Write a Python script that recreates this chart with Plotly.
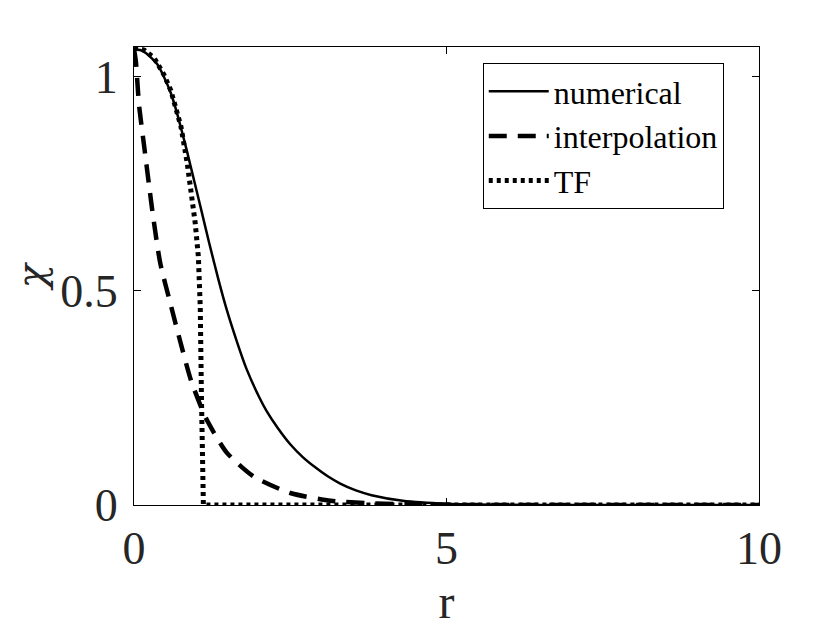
import plotly.graph_objects as go

# numerical solution
r_num = [0, 0.1, 0.2, 0.37, 0.48, 0.59, 0.67, 0.75, 0.85, 0.95, 1.06, 1.2, 1.35, 1.48,
         1.65, 1.8, 2.0, 2.12, 2.3, 2.5, 2.7, 2.9, 3.1, 3.3, 3.55, 3.8, 4.3, 5.0, 6.0,
         7.0, 8.0, 9.0, 10.0]
chi_num = [1.065, 1.063, 1.055, 1.03, 1.0, 0.962, 0.925, 0.882, 0.825, 0.765, 0.699, 0.614,
           0.527, 0.458, 0.38, 0.318, 0.253, 0.22, 0.18, 0.142, 0.112, 0.088, 0.067, 0.05,
           0.034, 0.023, 0.010, 0.003, 0.0005, 0.0, 0.0, 0.0, 0.0]

# interpolation
r_int = [0, 0.03, 0.08, 0.16, 0.24, 0.30, 0.42, 0.58, 0.74, 0.91, 1.15, 1.48, 1.92,
         2.5, 3.15, 3.8, 4.5, 5.5, 10.0]
chi_int = [1.065, 1.036, 0.935, 0.841, 0.748, 0.68, 0.565, 0.472, 0.382, 0.292, 0.203,
           0.123, 0.066, 0.028, 0.010, 0.004, 0.001, 0.0, 0.0]

# Thomas-Fermi
r_tf = [0, 0.16, 0.32, 0.48, 0.59, 0.67, 0.75, 0.85, 0.93, 0.98, 1.03, 1.06, 1.08,
        1.10, 1.11, 10.0]
chi_tf = [1.068, 1.063, 1.045, 1.005, 0.968, 0.930, 0.885, 0.800, 0.717, 0.658, 0.58,
          0.463, 0.245, 0.05, 0.0, 0.0]

x_ticks = [0, 5, 10]
y_ticks = [0, 0.5, 1]
y_tick_text = ["0", "0.5", "1"]

FONT = "Liberation Serif, Times New Roman, serif"
TICKCOL = "#262626"

fig = go.Figure()
fig.add_trace(go.Scatter(x=r_num, y=chi_num, mode="lines", name="numerical",
                         line=dict(color="black", width=2.5, shape="spline", smoothing=0.5)))
fig.add_trace(go.Scatter(x=r_int, y=chi_int, mode="lines", name="interpolation",
                         line=dict(color="black", width=4.5, dash="18px,11px",
                                   shape="spline", smoothing=0.6)))
fig.add_trace(go.Scatter(x=r_tf, y=chi_tf, mode="lines", name="TF",
                         line=dict(color="black", width=5, dash="4px,4px")))

axis_common = dict(showline=True, linecolor="black", linewidth=1, mirror="allticks",
                   ticks="inside", ticklen=7, tickcolor="black", tickwidth=1,
                   showgrid=False, zeroline=False,
                   tickfont=dict(family=FONT, size=46, color=TICKCOL))

fig.update_xaxes(range=[0, 10], tickvals=x_ticks, ticktext=[str(v) for v in x_ticks],
                 ticklabelstandoff=3,
                 title=dict(text="r", font=dict(family=FONT, size=48, color=TICKCOL), standoff=11),
                 **axis_common)
fig.update_yaxes(range=[0, 1.07], tickvals=y_ticks, ticktext=y_tick_text,
                 ticklabelstandoff=6,
                 title=dict(text="<i>χ</i>", font=dict(family="DejaVu Serif", size=40, color=TICKCOL),
                            standoff=2),
                 **axis_common)

fig.update_layout(
    width=840, height=630,
    margin=dict(l=126, r=89, t=39, b=133),
    paper_bgcolor="white", plot_bgcolor="white",
    showlegend=True,
    legend=dict(x=0.558, y=0.965, xanchor="left", yanchor="top",
                bgcolor="white", bordercolor="black", borderwidth=1,
                font=dict(family=FONT, size=32, color="black"),
                itemwidth=60, tracegroupgap=0),
)

fig.write_html("out.html")
